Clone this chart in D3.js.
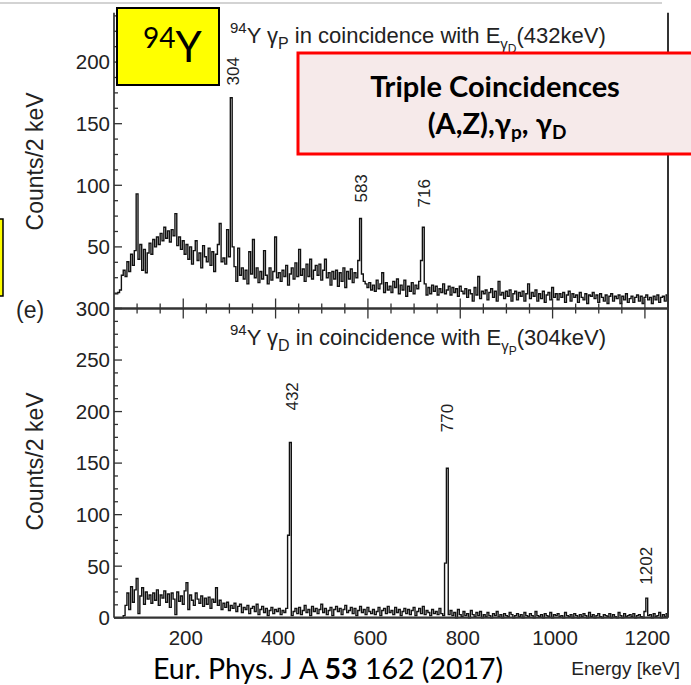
<!DOCTYPE html>
<html lang="en">
<head>
<meta charset="UTF-8">
<script src="https://d3js.org/d3.v7.min.js"></script>
<title>94Y triple coincidences</title>
<style>
	body{ margin:0; background:#fff; }
	svg{ display:block; }
	.lbl{ font-family:"Liberation Sans", Arial, sans-serif; fill:#222; }
	.hist{ fill:none; stroke:#111; stroke-width:1.4; }
	.axis{ stroke:#333; fill:none; }
	.slide{ font-family:Lato, "Open Sans", sans-serif; fill:#000; }
</style>
</head>
<body>
<script>
// histogram binning (keV)
const binStart = 50, binWidth = 4;

// gamma_P spectrum gated on 432 keV, counts per bin
const topCounts = [
	12,12,13,15,27,31,26,38,30,44,
	35,47,93,40,52,31,48,29,45,53,
	44,56,50,58,52,61,55,66,57,63,
	54,64,59,77,51,58,48,55,44,52,
	40,50,36,47,55,39,45,33,51,42,
	38,49,35,46,30,44,52,69,38,41,
	36,64,42,171,50,34,22,49,27,33,
	24,31,20,46,28,56,25,33,21,30,
	24,47,27,20,33,23,30,58,25,29,
	22,31,26,35,19,28,33,24,37,26,
	48,27,32,22,36,26,40,24,31,35,
	27,36,23,31,40,25,29,19,30,24,
	31,18,29,22,33,17,30,24,32,21,
	29,25,39,73,28,22,20,17,21,15,
	19,14,23,16,20,29,13,21,15,18,
	13,22,17,24,12,19,15,23,10,18,
	14,21,12,19,16,22,39,66,20,11,
	17,12,19,14,18,11,16,13,20,12,
	15,18,11,17,13,16,10,18,14,12,
	16,9,15,12,6,17,11,26,8,14,
	12,15,7,13,16,9,14,6,22,11,
	13,8,14,10,15,6,12,14,7,13,
	10,14,6,12,20,8,13,10,15,6,
	12,8,14,5,11,13,7,17,9,12,
	7,12,9,13,5,11,14,6,12,9,
	11,5,13,9,7,12,4,11,10,13,
	8,11,5,12,9,6,11,4,10,12,
	6,10,8,11,4,10,7,12,5,8,
	10,5,9,11,6,10,4,9,11,7,
	9,4,10,7,11,5,9,10,6,11
];

// gamma_D spectrum gated on 304 keV
const bottomCounts = [
	0,0,0,0,0,2,12,24,8,30,
	15,27,38,4,21,29,13,25,18,22,
	14,24,17,27,12,22,19,26,15,23,
	10,24,18,3,25,16,21,13,26,34,
	8,22,17,12,24,18,14,21,11,19,
	13,20,9,18,15,29,12,17,8,14,
	10,15,7,12,9,14,6,11,13,5,
	10,8,12,4,9,11,6,13,3,8,
	11,5,9,2,7,10,4,8,6,9,
	3,7,5,9,80,170,2,6,9,4,
	10,3,7,12,5,8,2,11,6,9,
	4,8,13,5,9,3,7,10,2,8,
	11,6,9,3,8,12,5,7,10,4,
	9,2,7,11,5,8,3,10,6,4,
	8,3,6,10,2,7,9,4,11,5,
	7,3,10,5,8,2,6,9,4,8,
	3,7,10,2,6,9,4,11,3,7,
	5,2,8,4,6,3,9,4,2,53,
	145,3,7,2,5,0,8,3,1,6,
	2,4,0,7,3,1,5,2,6,0,
	3,1,5,2,0,4,2,6,1,3,
	0,4,2,1,5,3,0,2,4,1,
	3,0,5,2,1,4,2,0,6,2,
	1,3,0,4,2,1,5,0,3,2,
	4,1,2,0,5,2,1,3,0,4,
	2,0,3,1,4,2,0,5,1,3,
	0,2,4,1,0,3,2,1,4,0,
	3,1,0,5,2,0,4,1,2,3,
	1,4,0,2,3,1,0,6,19,2,
	3,0,4,1,2,5,0,3,1,4
];

// peak annotations: energy of the peak, label, count level where label starts
const topPeakE = [306, 585, 720];
const topPeakText = ["304", "583", "716"];
const topPeakLevel = [181, 86, 82];
const botPeakE = [435, 770, 1202];
const botPeakText = ["432", "770", "1202"];
const botPeakLevel = [201, 180, 32];

const xTickValues = [200, 400, 600, 800, 1000, 1200];
const topYLabels = [50, 100, 150, 200];
const botYLabels = [0, 50, 100, 150, 200, 250, 300];

const svg = d3.select("body").append("svg")
	.attr("width", 691)
	.attr("height", 685);

const plotL = 114, plotR = 668, plotT = 12.8, plotM = 308.5, plotB = 617.7;

let x = d3.scaleLinear().domain([50, 1250]).range([plotL, plotR]),
	yTop = d3.scaleLinear().domain([0, 240]).range([plotM, plotT]),
	yBot = d3.scaleLinear().domain([0, 300]).range([plotB, plotM]);

// slide decorations behind the plot
svg.append("line").attr("x1", 0).attr("x2", 662).attr("y1", 3).attr("y2", 3)
	.attr("stroke", "#c4c4c4").attr("stroke-width", 1.5);
svg.append("rect").attr("x", -10).attr("y", 219).attr("width", 13).attr("height", 77)
	.attr("fill", "#ffff00").attr("stroke", "#000").attr("stroke-width", 1.5);

// histograms
function drawHist(counts, y) {
	let pts = counts.map(function (c, i) { return [binStart + i * binWidth, c]; });
	pts.push([binStart + counts.length * binWidth, counts[counts.length - 1]]);
	svg.append("path")
		.datum(pts)
		.attr("class", "hist")
		.attr("d", d3.line()
			.x(function (d) { return x(d[0]); })
			.y(function (d) { return y(d[1]); })
			.curve(d3.curveStepAfter));
}
drawHist(topCounts, yTop);
drawHist(bottomCounts, yBot);

// frame lines
svg.append("line").attr("class", "axis").attr("x1", plotL).attr("x2", plotL)
	.attr("y1", plotT).attr("y2", plotB).attr("stroke-width", 1.7);
svg.append("line").attr("class", "axis").attr("x1", plotR).attr("x2", plotR)
	.attr("y1", plotT).attr("y2", plotB).attr("stroke", "#555").attr("stroke-width", 2);
svg.append("line").attr("class", "axis").attr("x1", plotL).attr("x2", plotR)
	.attr("y1", plotM).attr("y2", plotM).attr("stroke-width", 2.4);
svg.append("line").attr("class", "axis").attr("x1", plotL).attr("x2", plotR)
	.attr("y1", plotB).attr("y2", plotB).attr("stroke-width", 2.2);

// y ticks (major every 50, 4 subdivisions)
function yTicks(y, max) {
	let vals = d3.range(0, max + 0.01, 12.5);
	svg.append("g").selectAll("line")
		.data(vals)
		.enter()
		.append("line")
		.attr("class", "axis")
		.attr("stroke-width", 1.3)
		.attr("x1", plotL)
		.attr("x2", function (d) { return d % 50 === 0 ? plotL + 8 : plotL + 4; })
		.attr("y1", function (d) { return y(d); })
		.attr("y2", function (d) { return y(d); });
}
yTicks(yTop, 237.5);
yTicks(yBot, 300);

// x ticks on the shared middle axis
let xMinor = d3.range(100, 1250, 50);
svg.append("g").selectAll("line")
	.data(xMinor)
	.enter()
	.append("line")
	.attr("class", "axis")
	.attr("stroke-width", 1.3)
	.attr("x1", function (d) { return x(d); })
	.attr("x2", function (d) { return x(d); })
	.attr("y1", function (d) { return d % 200 === 0 ? plotM - 10 : plotM - 5; })
	.attr("y2", function (d) { return d % 200 === 0 ? plotM + 10 : plotM + 5; });

// tick labels
svg.append("g").selectAll("text")
	.data(topYLabels)
	.enter()
	.append("text")
	.attr("class", "lbl")
	.attr("font-size", 20.5)
	.attr("text-anchor", "end")
	.attr("x", plotL - 4)
	.attr("y", function (d) { return yTop(d); })
	.attr("dy", "0.36em")
	.text(function (d) { return d; });
svg.append("g").selectAll("text")
	.data(botYLabels)
	.enter()
	.append("text")
	.attr("class", "lbl")
	.attr("font-size", 20.5)
	.attr("text-anchor", "end")
	.attr("x", plotL - 4)
	.attr("y", function (d) { return yBot(d); })
	.attr("dy", "0.36em")
	.text(function (d) { return d; });
svg.append("g").selectAll("text")
	.data(xTickValues)
	.enter()
	.append("text")
	.attr("class", "lbl")
	.attr("font-size", 20.5)
	.attr("text-anchor", "middle")
	.attr("x", function (d) { return x(d) + 2.5; })
	.attr("y", 645)
	.text(function (d) { return d; });

// axis titles
function yTitle(cy) {
	svg.append("text")
		.attr("class", "lbl")
		.attr("font-size", 23)
		.attr("text-anchor", "middle")
		.attr("transform", "translate(43," + cy + ") rotate(-90)")
		.text("Counts/2 keV");
}
yTitle((yTop(0) + yTop(240)) / 2 + 0.7);
yTitle((yBot(0) + yBot(300)) / 2 - 1.6);

svg.append("text").attr("class", "lbl").attr("font-size", 19)
	.attr("fill", "#333").attr("text-anchor", "end")
	.attr("x", 680).attr("y", 675).text("Energy [keV]");

svg.append("text").attr("class", "lbl").attr("font-size", 23)
	.attr("x", 16).attr("y", 318).text("(e)");

// panel titles
function panelTitle(yBase, g1, g2, energy) {
	let t = svg.append("text").attr("class", "lbl").attr("font-size", 22)
		.attr("x", 230).attr("y", yBase);
	t.append("tspan").attr("font-size", 15).attr("dy", -10).text("94");
	t.append("tspan").attr("dy", 10).text("Y γ");
	t.append("tspan").attr("font-size", 16).attr("dy", 6).text(g1);
	t.append("tspan").attr("dy", -6).text(" in coincidence with E");
	t.append("tspan").attr("font-size", 15).attr("dy", 6).text("γ");
	t.append("tspan").attr("font-size", 12).attr("dy", 4).text(g2);
	t.append("tspan").attr("dy", -10).text("(" + energy + "keV)");
}
panelTitle(43, "P", "D", 432);
panelTitle(345, "D", "P", 304);

// peak labels
function peakLabels(es, texts, levels, y) {
	svg.append("g").selectAll("text")
		.data(es)
		.enter()
		.append("text")
		.attr("class", "lbl")
		.attr("font-size", 17)
		.attr("text-anchor", "start")
		.attr("transform", function (d, i) {
			return "translate(" + (x(d) + 6.5) + "," + y(levels[i]) + ") rotate(-90)";
		})
		.text(function (d, i) { return texts[i]; });
}
peakLabels(topPeakE, topPeakText, topPeakLevel, yTop);
peakLabels(botPeakE, botPeakText, botPeakLevel, yBot);

// slide overlays
svg.append("rect").attr("x", 117).attr("y", 8).attr("width", 102).attr("height", 77)
	.attr("fill", "#ffff00").attr("stroke", "#000").attr("stroke-width", 2);
let yl = svg.append("text").attr("class", "slide").attr("x", 143).attr("y", 62);
yl.append("tspan").attr("font-size", 28).attr("dy", -14).text("94");
yl.append("tspan").attr("font-size", 42).attr("dy", 14).text("Y");

svg.append("rect").attr("x", 298).attr("y", 53).attr("width", 420).attr("height", 101)
	.attr("fill", "#f6eaea").attr("stroke", "#ff0000").attr("stroke-width", 3);
svg.append("text").attr("class", "slide").attr("font-weight", "bold").attr("font-size", 29)
	.attr("text-anchor", "middle").attr("x", 495).attr("y", 97).text("Triple Coincidences");
let l2 = svg.append("text").attr("class", "slide").attr("font-weight", "bold").attr("font-size", 29)
	.attr("text-anchor", "middle").attr("x", 497).attr("y", 134);
l2.append("tspan").text("(A,Z),γ");
l2.append("tspan").attr("font-size", 19).attr("dy", 5).text("p");
l2.append("tspan").attr("dy", -5).text(", γ");
l2.append("tspan").attr("font-size", 19).attr("dy", 5).text("D");

let cite = svg.append("text").attr("class", "slide").attr("font-size", 28.5)
	.attr("x", 153).attr("y", 679);
cite.append("tspan").text("Eur. Phys. J A ");
cite.append("tspan").attr("font-weight", "bold").text("53");
cite.append("tspan").text(" 162 (2017)");
</script>
</body>
</html>
